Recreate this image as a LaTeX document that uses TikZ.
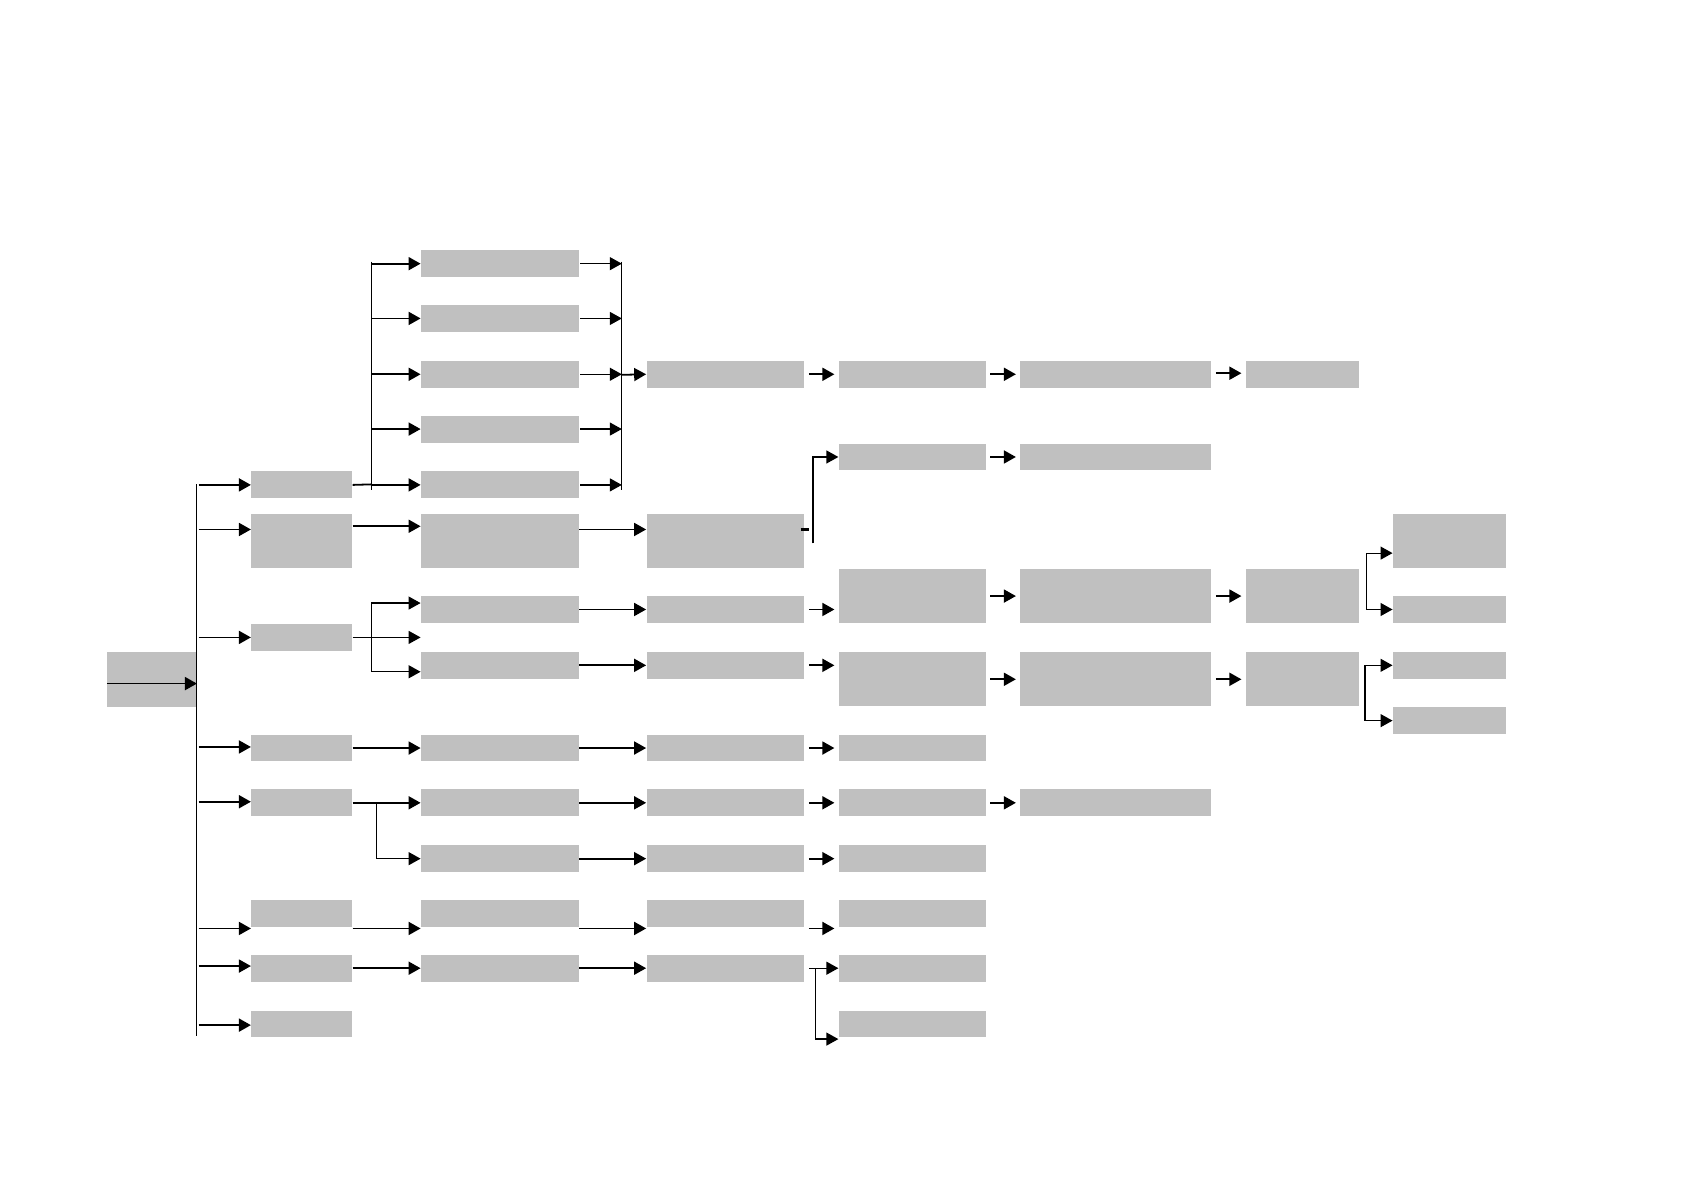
\documentclass[tikz,border=0pt]{standalone}
\usepackage{xcolor}
\usepackage{tikz}
\usetikzlibrary{arrows.meta, positioning, calc}

\definecolor{boxgray}{RGB}{192,192,192}

\begin{document}
\begin{tikzpicture}[x=0.018941cm, y=-0.018941cm,
    box/.style={fill=boxgray, inner sep=0pt, minimum height=0.474cm},
    tall/.style={minimum height=0.947cm},
    wb/.style={minimum width=1.780cm},
    wc/.style={minimum width=2.784cm},
    we/.style={minimum width=2.595cm},
    wf/.style={minimum width=3.371cm},
    wg/.style={minimum width=1.989cm},
    arr/.style={-{Triangle[length=6pt,width=6.5pt]}, line width=0.9pt},
    gap/.style={shorten <=2pt, shorten >=2pt},
    ln/.style={line width=0.9pt}]
\useasboundingbox (0,0) rectangle (1568,1108);

% root
\node[box, minimum width=1.572cm, minimum height=0.966cm] (a1) at (141.5,632.5) {};

% second column
\node[box, wb] (b1) at (281,451.5) {};
\node[box, wb, tall] (b2) at (281,504) {};
\node[box, wb] (b3) at (281,593.5) {};
\node[box, wb] (b4) at (281,696.5) {};
\node[box, wb] (b5) at (281,747.5) {};
\node[box, wb] (b6) at (281,850.5) {};
\node[box, wb] (b7) at (281,901.5) {};
\node[box, wb] (b8) at (281,953.5) {};

% third column
\node[box, wc] (c1) at (465.5,245.5) {};
\node[box, wc] (c2) at (465.5,296.5) {};
\node[box, wc] (c3) at (465.5,348.5) {};
\node[box, wc] (c4) at (465.5,399.5) {};
\node[box, wc] (c5) at (465.5,451.5) {};
\node[box, wc, tall] (c6) at (465.5,504) {};
\node[box, wc] (c7) at (465.5,567.5) {};
\node[box, wc] (c8) at (465.5,619.5) {};
\node[box, wc] (c9) at (465.5,696.5) {};
\node[box, wc] (c10) at (465.5,747.5) {};
\node[box, wc] (c11) at (465.5,799.5) {};
\node[box, wc] (c12) at (465.5,850.5) {};
\node[box, wc] (c13) at (465.5,901.5) {};

% fourth column
\node[box, wc] (d1) at (675.5,348.5) {};
\node[box, wc, tall] (d2) at (675.5,504) {};
\node[box, wc] (d3) at (675.5,567.5) {};
\node[box, wc] (d4) at (675.5,619.5) {};
\node[box, wc] (d5) at (675.5,696.5) {};
\node[box, wc] (d6) at (675.5,747.5) {};
\node[box, wc] (d7) at (675.5,799.5) {};
\node[box, wc] (d8) at (675.5,850.5) {};
\node[box, wc] (d9) at (675.5,901.5) {};

% fifth column
\node[box, we] (e1) at (849.5,348.5) {};
\node[box, we] (e2) at (849.5,425.5) {};
\node[box, we, tall] (e3) at (849.5,555) {};
\node[box, we, tall] (e4) at (849.5,632.5) {};
\node[box, we] (e5) at (849.5,696.5) {};
\node[box, we] (e6) at (849.5,747.5) {};
\node[box, we] (e7) at (849.5,799.5) {};
\node[box, we] (e8) at (849.5,850.5) {};
\node[box, we] (e9) at (849.5,901.5) {};
\node[box, we] (e10) at (849.5,953.5) {};

% sixth column
\node[box, wf] (f1) at (1039,348.5) {};
\node[box, wf] (f2) at (1039,425.5) {};
\node[box, wf, tall] (f3) at (1039,555) {};
\node[box, wf, tall] (f4) at (1039,632.5) {};
\node[box, wf] (f6) at (1039,747.5) {};

% seventh and eighth column
\node[box, wg] (g1) at (1212.5,348.5) {};
\node[box, wg, tall] (g3) at (1212.5,555) {};
\node[box, wg, tall] (g4) at (1212.5,632.5) {};
\node[box, wg, tall] (h1) at (1349.5,504) {};
\node[box, wg] (h2) at (1349.5,567.5) {};
\node[box, wg] (h3) at (1349.5,619.5) {};
\node[box, wg] (h4) at (1349.5,671) {};

% spines
\coordinate (mtop) at (183,451);
\coordinate (mbot) at (183,965);
\coordinate (sa) at (346,451);
\coordinate (ca) at (579,349);
\coordinate (sb) at (757,506);
\coordinate (sc) at (346,593.5);
\coordinate (sd) at (1272,567.5);
\coordinate (se) at (1271,671);

% trunk
\draw[arr] ($(a1.west)+(0,4)$) -- ($(a1.east)+(0,4)$);
\draw[ln] (mtop) -- (mbot);
\foreach \n/\dy in {b1/0, b2/-11, b3/0, b4/-1, b5/-1, b6/14, b7/-2, b8/1}
  \draw[arr] ($(\n.west -| mtop)+(2,\dy)$) -- ($(\n.west)+(0,\dy)$);

% upper fan
\draw[ln] (b1.east) -- (sa);
\draw[ln] ($(sa |- c1.west)+(0,-2)$) -- ($(sa)+(0,5)$);
\foreach \n in {c1,c2,c3,c4,c5}
  \draw[arr] (sa |- \n.west) -- (\n.west);
\draw[line width=0.6pt] ($(ca |- c1.east)+(0,-2)$) -- ($(ca |- c5.east)+(0,5)$);
\foreach \n in {c1,c2,c3,c4,c5}
  \draw[arr, line width=0.6pt] ($(\n.east)+(1,0)$) -- (ca |- \n.east);
\draw[arr] (ca) -- (d1.west);
\draw[arr, gap] (d1.east) -- (e1.west);
\draw[arr, gap] (e1.east) -- (f1.west);
\draw[arr, gap] ($(f1.east)+(0,-1)$) -- ($(g1.west)+(0,-1)$);

% b2 row
\draw[arr] ($(b2.east)+(0,-14)$) -- ($(c6.west)+(0,-14)$);
\draw[arr] ($(c6.east)+(0,-11)$) -- ($(d2.west)+(0,-11)$);
\draw[line width=1.2pt] ($(d2.east)+(-4,-11)$) -- ($(d2.east)+(4,-11)$);
\draw[arr, line width=0.6pt] (sb) |- (e2.west);
\draw[arr, gap] (e2.east) -- (f2.west);

% b3 fan
\draw[line width=0.6pt] (b3.east) -- (sc);
\draw[arr, line width=0.6pt] (sc) |- ($(c7.west)+(0,-6)$);
\draw[arr, line width=0.6pt] (sc) |- ($(c8.west)+(0,6)$);
\draw[arr, line width=0.6pt] (sc) -- (sc -| c7.west);
\draw[arr] (c7.east) -- (d3.west);
\draw[arr] (c8.east) -- (d4.west);
\draw[arr, gap] (d3.east) -- (d3.east -| e3.west);
\draw[arr, gap] (d4.east) -- (d4.east -| e4.west);
\draw[arr, gap] (e3.east) -- (f3.west);
\draw[arr, gap] (e4.east) -- (f4.west);
\draw[arr, gap] (f3.east) -- (g3.west);
\draw[arr, gap] (f4.east) -- (g4.west);
\draw[arr, line width=0.6pt] (sd) |- ($(h1.west)+(0,11)$);
\draw[arr, line width=0.6pt] (sd) -- (h2.west);
\draw[arr, line width=0.6pt] (se) |- (h3.west);
\draw[arr, line width=0.6pt] (se) -- (h4.west);

% lower rows
\draw[arr] (b4.east) -- (c9.west);
\draw[arr] (c9.east) -- (d5.west);
\draw[arr, gap] (d5.east) -- (e5.west);
\draw[arr] (b5.east) -- (c10.west);
\draw[arr, line width=0.6pt] ($(b5.east)+(22,0)$) |- (c11.west);
\draw[arr] (c10.east) -- (d6.west);
\draw[arr, gap] (d6.east) -- (e6.west);
\draw[arr, gap] (e6.east) -- (f6.west);
\draw[arr] (c11.east) -- (d7.west);
\draw[arr, gap] (d7.east) -- (e7.west);
\draw[arr] ($(b6.east)+(0,14)$) -- ($(c12.west)+(0,14)$);
\draw[arr] ($(c12.east)+(0,14)$) -- ($(d8.west)+(0,14)$);
\draw[arr, gap] ($(d8.east)+(0,14)$) -- ($(e8.west)+(0,14)$);
\draw[arr] (b7.east) -- (c13.west);
\draw[arr] (c13.east) -- (d9.west);
\draw[arr, line width=0.6pt] ($(d9.east)+(4,0)$) -- (e9.west);
\draw[arr, line width=0.6pt] ($(d9.east)+(10,0)$) |- ($(e10.west)+(0,14)$);
\end{tikzpicture}
\end{document}
